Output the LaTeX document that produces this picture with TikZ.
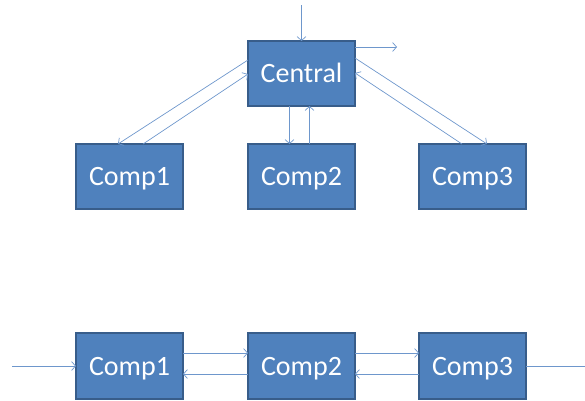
\documentclass[tikz,border=0pt]{standalone}
\usepackage{fontspec}
\setmainfont{Carlito}
\usetikzlibrary{arrows.meta}
\definecolor{boxblue}{HTML}{4F81BD}
\definecolor{boxedge}{HTML}{385D8A}
\definecolor{linkblue}{HTML}{6E97CC}
\tikzset{
  comp/.style={rectangle,fill=boxblue,draw=boxedge,line width=1.4pt,
    minimum width=107pt,minimum height=65pt,inner sep=0pt,outer sep=0pt,
    text=white,font=\fontsize{28}{34}\selectfont,text height=18pt,text depth=0pt},
  link/.style={-{Straight Barb[length=4pt,width=9pt]},draw=linkblue,line width=0.7pt}
}
\begin{document}
\begin{tikzpicture}[x=1pt,y=-1pt]
\useasboundingbox (0,0) rectangle (585,400);

% Star layout
\node[comp] (cen) at (301.5,73.5) {Central};
\node[comp] (c1) at (129.5,176.5) {Comp1};
\node[comp] (c2) at (301.5,176.5) {Comp2};
\node[comp] (c3) at (472.5,176.5) {Comp3};

\coordinate (in) at (301.5,5);
\coordinate (out) at (397,47);
\draw[link] (in) -- (cen.north);
\draw[link] ([yshift=-6pt]cen.north east) -- (out);

\draw[link] ([yshift=-19pt]cen.north west) -- ([xshift=42pt]c1.north west);
\draw[link] ([xshift=67pt]c1.north west) -- ([yshift=-33pt]cen.north west);
\draw[link] ([xshift=-12pt]cen.south) -- ([xshift=-12pt]c2.north);
\draw[link] ([xshift=8pt]c2.north) -- ([xshift=8pt]cen.south);
\draw[link] ([yshift=-17pt]cen.north east) -- ([xshift=68pt]c3.north west);
\draw[link] ([xshift=43pt]c3.north west) -- ([yshift=-32pt]cen.north east);

% Chain layout
\node[comp,minimum height=66pt] (b1) at (129.5,366) {Comp1};
\node[comp,minimum height=66pt] (b2) at (301.5,366) {Comp2};
\node[comp,minimum height=66pt] (b3) at (472.5,366) {Comp3};

\coordinate (bin) at (12,366);
\coordinate (bout) at (585,366);
\draw[link] (bin) -- (b1.west);
\foreach \a/\b in {b1/b2,b2/b3} {
  \draw[link] ([yshift=13pt]\a.east) -- ([yshift=13pt]\b.west);
  \draw[link] ([yshift=-8pt]\b.west) -- ([yshift=-8pt]\a.east);
}
\draw[link,-] (b3.east) -- (bout);

\end{tikzpicture}
\end{document}
